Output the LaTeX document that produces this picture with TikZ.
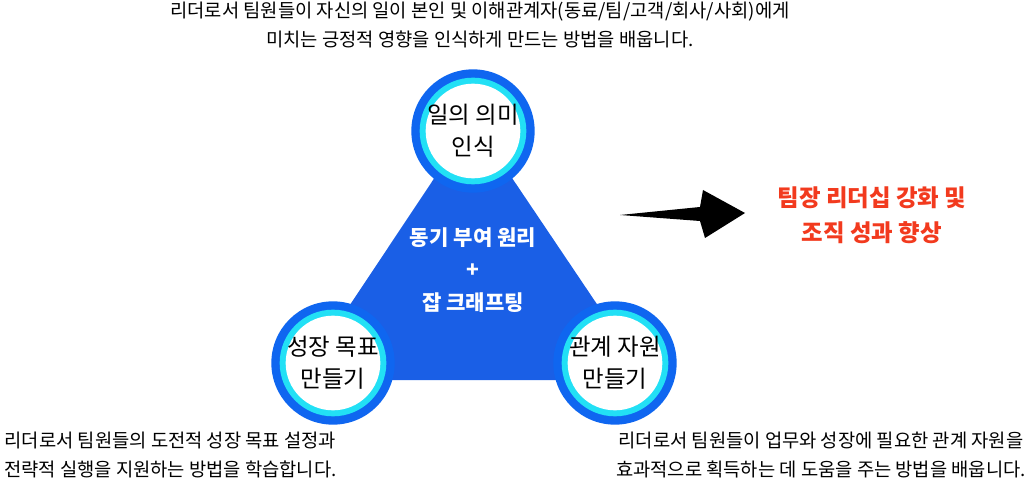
\documentclass[tikz,border=0pt]{standalone}
\usepackage{fontspec}
\setmainfont{Noto Sans CJK KR}
\definecolor{tri}{HTML}{1A5FE6}
\definecolor{ring}{HTML}{0F66F0}
\definecolor{cy}{HTML}{22E0F5}
\definecolor{redt}{HTML}{F23A1E}
\begin{document}
\begin{tikzpicture}[x=0.03cm,y=-0.03cm,
  circ/.style={inner sep=0pt,font=\fontsize{20}{27}\selectfont,align=center},
  desc/.style={font=\fontsize{16}{25}\selectfont,align=center}]
\useasboundingbox (0,0) rectangle (1030,484);
\coordinate (tA) at (473,120);
\coordinate (tB) at (300,380);
\coordinate (tC) at (648,380);
\fill[tri,rounded corners=8pt] (tA) -- (tC) -- (tB) -- cycle;
\foreach \p in {{(473,131)},{(333,363)},{(615,363)}}{
  \fill[ring] \p circle (1.85cm);
  \fill[cy] \p circle (1.6cm);
  \fill[white] \p circle (1.42cm);
}
\node[circ] (top) at (473,131) {일의 의미\\인식};
\node[circ] (left) at (333,363) {성장 목표\\만들기};
\node[circ] (right) at (615,363) {관계 자원\\만들기};
\node[font=\fontsize{18}{28}\selectfont\bfseries,text=white,align=center] (mid) at (473,270) {동기 부여 원리\\+\\잡 크래프팅};
\node[desc] (dt) at (480,25) {리더로서 팀원들이 자신의 일이 본인 및 이해관계자(동료/팀/고객/회사/사회)에게\\미치는 긍정적 영향을 인식하게 만드는 방법을 배웁니다.};
\node[desc,anchor=west] (dl) at (0,455) {리더로서 팀원들의 도전적 성장 목표 설정과\\전략적 실행을 지원하는 방법을 학습합니다.};
\node[desc,anchor=east] (dr) at (1030,455) {리더로서 팀원들이 업무와 성장에 필요한 관계 자원을\\효과적으로 획득하는 데 도움을 주는 방법을 배웁니다.};
\coordinate (a1) at (620,215);
\coordinate (a2) at (745,213);
\fill[black] (a1) -- (700,207) -- (703,190) -- (a2) -- (705,238) -- (700,221) -- cycle;
\node[font=\fontsize{20}{30}\selectfont\bfseries,text=redt,align=center] (res) at (872,215) {팀장 리더십 강화 및\\조직 성과 향상};
\end{tikzpicture}
\end{document}
